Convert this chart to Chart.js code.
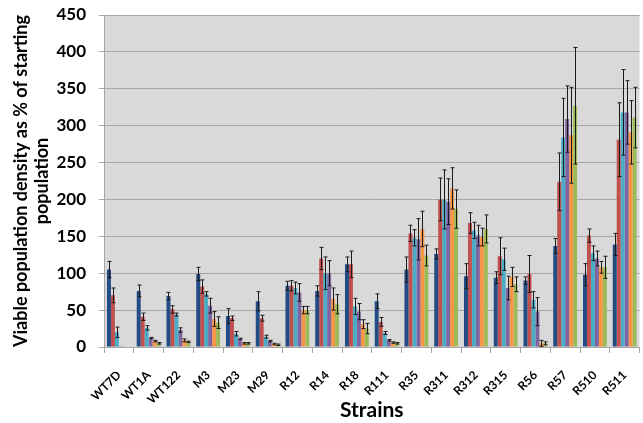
<!DOCTYPE html>
<html>
<head>
<meta charset="utf-8">
<script src="https://cdn.jsdelivr.net/npm/chart.js@4"></script>
<style>
  body { margin: 0; background: #fff; overflow: hidden; }
  #wrap { width: 650px; height: 423px; position: relative; }
</style>
</head>
<body>
<div id="wrap"><canvas id="myChart"></canvas></div>
<script>
const strains = ["WT7D", "WT1A", "WT122", "M3", "M23", "M29", "R12", "R14", "R18",
  "R111", "R35", "R311", "R312", "R315", "R56", "R57", "R510", "R511"];

// six series per strain (no legend in the picture)
const blueVals   = [105, 76, 69, 99, 42, 62, 83, 76, 112, 62, 105, 126, 96, 94, 90, 137, 98, 139];
const blueErr    = [11, 8, 5, 9, 10, 13, 6, 7, 10, 10, 17, 7, 17, 8, 5, 10, 15, 15];
const redVals    = [70, 41, 51, 82, 39, 39, 83, 120, 112, 34, 154, 200, 168, 123, 99, 224, 151, 281];
const redErr     = [10, 5, 5, 9, 3, 4, 7, 15, 18, 6, 11, 29, 14, 25, 25, 39, 9, 50];
const cyanVals   = [20, 26, 44, 72, 18, 14, 80, 100, 55, 19, 148, 200, 158, 119, 64, 284, 127, 318];
const cyanErr    = [7, 3, 2, 3, 3, 2, 8, 22, 11, 2, 11, 40, 11, 15, 11, 53, 10, 58];
const purpleVals = [1, 12, 23, 56, 11, 8, 74, 100, 48, 9, 146, 197, 151, 80, 48, 309, 120, 318];
const purpleErr  = [0, 1, 3, 10, 1, 1, 12, 17, 11, 1, 28, 31, 14, 16, 19, 45, 10, 43];
const orangeVals = [0, 8, 9, 38, 5, 4, 50, 65, 31, 6, 160, 215, 149, 95, 5, 287, 108, 291];
const orangeErr  = [0, 1, 2, 10, 1, 1, 5, 15, 6, 1, 24, 28, 12, 13, 4, 65, 8, 43];
const greenVals  = [0, 5, 7, 33, 5, 3, 50, 58, 25, 5, 124, 187, 160, 85, 5, 327, 108, 311];
const greenErr   = [0, 1, 1, 8, 1, 1, 5, 13, 7, 1, 14, 26, 19, 10, 2, 79, 15, 41];

const yTicks = [0, 50, 100, 150, 200, 250, 300, 350, 400, 450];

const series = [
  { data: blueVals, err: blueErr, color: "#234C84" },
  { data: redVals, err: redErr, color: "#C0504D" },
  { data: cyanVals, err: cyanErr, color: "#4BACC6" },
  { data: purpleVals, err: purpleErr, color: "#8064A2" },
  { data: orangeVals, err: orangeErr, color: "#F79646" },
  { data: greenVals, err: greenErr, color: "#9BBB59" },
];

const plotBackground = {
  id: "plotBackground",
  beforeDraw: (chart) => {
    const { ctx, chartArea } = chart;
    ctx.save();
    ctx.fillStyle = "#D9D9D9";
    ctx.fillRect(chartArea.left, chartArea.top, chartArea.right - chartArea.left, chartArea.bottom - chartArea.top);
    ctx.restore();
  },
};

const errorBars = {
  id: "errorBars",
  afterDatasetsDraw: (chart) => {
    const { ctx } = chart;
    const y = chart.scales.y;
    ctx.save();
    ctx.strokeStyle = "#1a1a1a";
    ctx.lineWidth = 1;
    series.forEach((s, i) => {
      chart.getDatasetMeta(i).data.forEach((bar, j) => {
        const e = s.err[j];
        if (!e) return;
        const x = Math.round(bar.x) + 0.5;
        const top = y.getPixelForValue(s.data[j] + e);
        const bot = y.getPixelForValue(Math.max(0, s.data[j] - e));
        ctx.beginPath();
        ctx.moveTo(x, top);
        ctx.lineTo(x, bot);
        ctx.moveTo(x - 2, top);
        ctx.lineTo(x + 2, top);
        ctx.moveTo(x - 2, bot);
        ctx.lineTo(x + 2, bot);
        ctx.stroke();
      });
    });
    ctx.restore();
  },
};

const chart = new Chart(document.getElementById("myChart"), {
  type: "bar",
  data: {
    labels: strains,
    datasets: series.map((s) => ({
      data: s.data,
      backgroundColor: s.color,
      borderWidth: 0,
      categoryPercentage: 0.8,
      barPercentage: 1.0,
    })),
  },
  options: {
    responsive: true,
    maintainAspectRatio: false,
    animation: false,
    layout: { padding: { top: 15, right: 6, left: 0, bottom: 0 } },
    plugins: { legend: { display: false }, tooltip: { enabled: false } },
    scales: {
      x: {
        afterFit: (scale) => { scale.height = 76; },
        grid: { drawOnChartArea: false, color: "#A6A6A6", tickLength: 6 },
        border: { color: "#A6A6A6" },
        ticks: {
          color: "#000",
          font: { family: "Lato", size: 12, weight: "bold" },
          minRotation: 45,
          maxRotation: 45,
          autoSkip: false,
          padding: 15,
        },
        title: {
          display: true,
          text: "Strains",
          color: "#000",
          font: { family: "Lato", size: 21, weight: "bold" },
          padding: { top: 0, bottom: 0 },
        },
      },
      y: {
        min: 0,
        max: 450,
        afterFit: (scale) => {
          scale.width = 104;
          scale.paddingTop = 4;
          scale.paddingBottom = 4;
        },
        afterBuildTicks: (scale) => { scale.ticks = yTicks.map((v) => ({ value: v })); },
        grid: { color: "#A6A6A6", tickLength: 5 },
        border: { color: "#A6A6A6" },
        ticks: {
          color: "#000",
          font: { family: "Lato", size: 17, weight: "bold" },
          padding: 13,
        },
        title: {
          display: true,
          text: ["Viable population density as % of starting", "population"],
          color: "#000",
          font: { family: "Lato", size: 18, weight: "bold" },
          padding: { top: 10, bottom: 0 },
        },
      },
    },
  },
  plugins: [plotBackground, errorBars],
});
</script>
</body>
</html>
